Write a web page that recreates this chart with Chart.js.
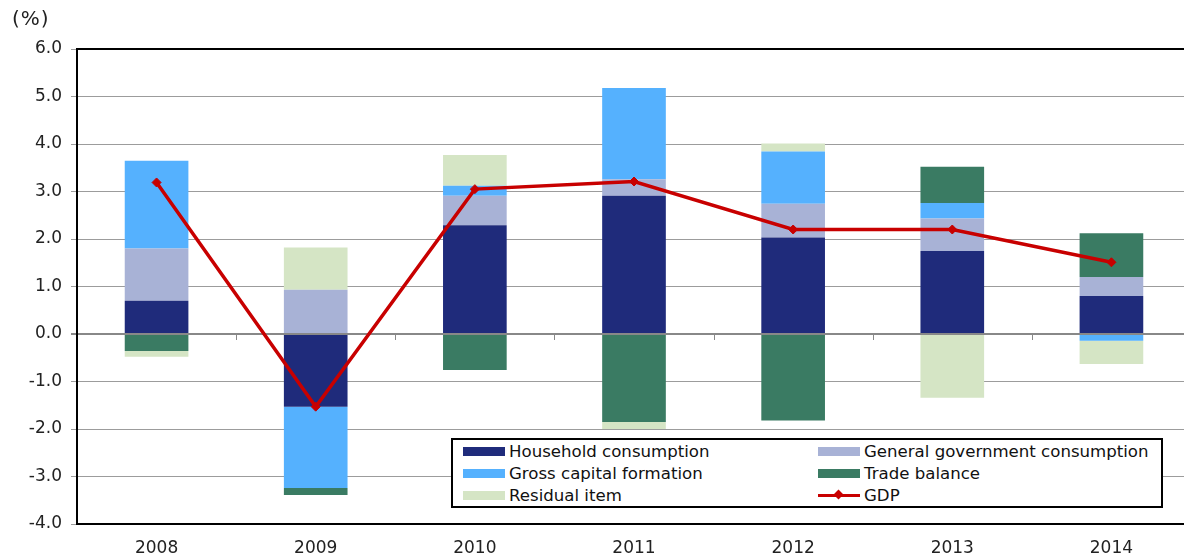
<!DOCTYPE html>
<html>
<head>
<meta charset="utf-8">
<script src="https://cdn.jsdelivr.net/npm/chart.js@4"></script>
<style>
  html, body { margin: 0; padding: 0; background: #fff; overflow: hidden; }
  #wrap { position: relative; width: 1184px; height: 556px; overflow: hidden; }
  canvas { display: block; }
  #unit { position: absolute; left: 12px; top: 6px; font: 20px "DejaVu Sans", sans-serif; color: #222; letter-spacing: 1px; }
  #legend {
    position: absolute; left: 451px; top: 438px; width: 708px; height: 66px;
    border: 2px solid #000; background: #fff;
    font: 16.6px "DejaVu Sans", sans-serif; color: #111;
  }
  .item { position: absolute; height: 22px; line-height: 22px; white-space: nowrap; }
  .sw { display: inline-block; width: 42px; height: 9px; vertical-align: middle; margin-right: 4px; position: relative; top: -1px; }
  .ln { display: inline-block; width: 42px; height: 3px; vertical-align: middle; margin-right: 4px; background: #c80000; position: relative; top: -1px; }
  .ln::after { content: ""; position: absolute; left: 17px; top: -3px; width: 7px; height: 7px; background: #c80000; transform: rotate(45deg); }
</style>
</head>
<body>
<div id="wrap">
  <canvas id="chart" width="1184" height="556"></canvas>
  <div id="unit">(%)</div>
  <div id="legend"></div>
</div>
<script>
// categories
const years = ['2008', '2009', '2010', '2011', '2012', '2013', '2014'];

// contributions to GDP growth (percentage points)
const household = [0.70, -1.53, 2.29, 2.91, 2.03, 1.75, 0.80];
const government = [1.10, 0.93, 0.62, 0.35, 0.71, 0.68, 0.40];
const capital = [1.85, -1.71, 0.21, 1.92, 1.10, 0.33, -0.14];
const trade = [-0.36, -0.15, -0.76, -1.85, -1.82, 0.76, 0.92];
const residual = [-0.12, 0.89, 0.65, -0.15, 0.17, -1.34, -0.49];
const gdp = [3.19, -1.53, 3.05, 3.21, 2.20, 2.20, 1.51];

const yTicks = [-4, -3, -2, -1, 0, 1, 2, 3, 4, 5, 6];

const colors = {
  household: '#1f2b7b',
  government: '#a8b2d6',
  capital: '#55b1fe',
  trade: '#3a7b63',
  residual: '#d5e5c5',
  gdp: '#c80000'
};

const barOpts = { barPercentage: 0.4, categoryPercentage: 1, order: 1, stack: 'parts', borderWidth: 0 };

// the plot runs a little past the right edge of the picture
const PLOT_RIGHT = 1191;
const widen = {
  id: 'widen',
  afterLayout(chart) {
    chart.chartArea.right = PLOT_RIGHT;
    chart.chartArea.width = PLOT_RIGHT - chart.chartArea.left;
    const x = chart.scales.x;
    x.right = PLOT_RIGHT;
    x.width = PLOT_RIGHT - x.left;
    x.configure();
  }
};

// plot border + little ticks on the zero line
const frame = {
  id: 'frame',
  afterDatasetsDraw(chart) {
    const { ctx, chartArea: a, scales } = chart;
    const y0 = scales.y.getPixelForValue(0);
    const step = (a.right - a.left) / years.length;
    ctx.save();
    ctx.strokeStyle = '#888';
    ctx.lineWidth = 1;
    for (let i = 1; i < years.length; i++) {
      const x = Math.round(a.left + step * i) + 0.5;
      ctx.beginPath();
      ctx.moveTo(x, y0);
      ctx.lineTo(x, y0 + 6);
      ctx.stroke();
    }
    ctx.strokeStyle = '#000';
    ctx.lineWidth = 2;
    ctx.strokeRect(a.left, a.top, a.right - a.left, a.bottom - a.top);
    ctx.restore();
  }
};

const ctx = document.getElementById('chart').getContext('2d');
new Chart(ctx, {
  type: 'bar',
  data: {
    labels: years,
    datasets: [
      { type: 'line', label: 'GDP', data: gdp, borderColor: colors.gdp, backgroundColor: colors.gdp,
        borderWidth: 3.5, pointStyle: 'rectRot', pointRadius: 4.5, pointBorderWidth: 1, order: 0, stack: 'gdp', tension: 0 },
      { label: 'Household consumption', data: household, backgroundColor: colors.household, ...barOpts },
      { label: 'General government consumption', data: government, backgroundColor: colors.government, ...barOpts },
      { label: 'Gross capital formation', data: capital, backgroundColor: colors.capital, ...barOpts },
      { label: 'Trade balance', data: trade, backgroundColor: colors.trade, ...barOpts },
      { label: 'Residual item', data: residual, backgroundColor: colors.residual, ...barOpts }
    ]
  },
  options: {
    responsive: false,
    animation: false,
    layout: { padding: { top: 49, left: 0, right: 0, bottom: 0 } },
    plugins: {
      legend: { display: false },
      tooltip: { enabled: false }
    },
    scales: {
      x: {
        stacked: true,
        offset: true,
        grid: { display: false, drawTicks: false },
        border: { display: false },
        ticks: { color: '#222', font: { family: 'DejaVu Sans', size: 17 }, padding: 14 },
        afterFit(s) { s.height = 32; }
      },
      y: {
        stacked: true,
        min: -4,
        max: 6,
        afterBuildTicks(s) { s.ticks = yTicks.map(v => ({ value: v })); },
        ticks: {
          color: '#222',
          font: { family: 'DejaVu Sans', size: 17 },
          padding: 9,
          callback: v => v.toFixed(1)
        },
        grid: {
          color: c => c.tick && c.tick.value === 0 ? '#888' : '#9c9c9c',
          lineWidth: c => c.tick && c.tick.value === 0 ? 2 : 1,
          tickLength: 6
        },
        border: { display: false },
        afterFit(s) { s.width = 77; }
      }
    }
  },
  plugins: [widen, frame]
});

// legend as real text
const legendItems = [
  { label: 'Household consumption', color: colors.household, col: 0, row: 0 },
  { label: 'General government consumption', color: colors.government, col: 1, row: 0 },
  { label: 'Gross capital formation', color: colors.capital, col: 0, row: 1 },
  { label: 'Trade balance', color: colors.trade, col: 1, row: 1 },
  { label: 'Residual item', color: colors.residual, col: 0, row: 2 },
  { label: 'GDP', line: true, col: 1, row: 2 }
];
const legend = document.getElementById('legend');
legendItems.forEach(it => {
  const d = document.createElement('div');
  d.className = 'item';
  d.style.left = (it.col === 0 ? 10 : 365) + 'px';
  d.style.top = (1 + it.row * 22) + 'px';
  const mark = document.createElement('span');
  if (it.line) {
    mark.className = 'ln';
  } else {
    mark.className = 'sw';
    mark.style.background = it.color;
  }
  d.appendChild(mark);
  d.appendChild(document.createTextNode(it.label));
  legend.appendChild(d);
});
</script>
</body>
</html>
